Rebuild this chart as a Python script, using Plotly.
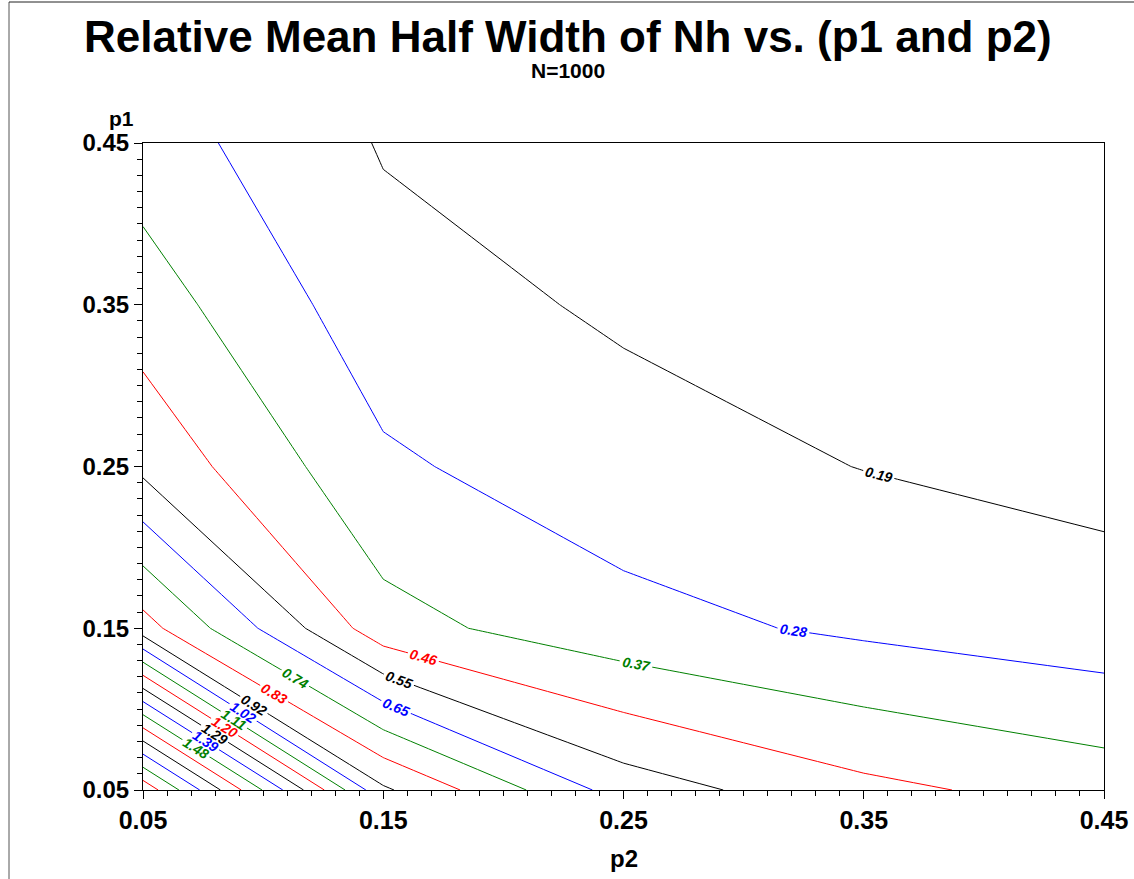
import plotly.graph_objects as go

# grid coordinates
p2_values = [0.05, 0.15, 0.25, 0.35, 0.45]   # x axis
p1_values = [0.05, 0.15, 0.25, 0.35, 0.45]   # y axis

# relative mean half width, rows = p1, columns = p2
rmhw_p1_005 = [2.010, 0.940, 0.604, 0.486, 0.422]
rmhw_p1_015 = [0.871, 0.4035, 0.309, 0.260, 0.222]
rmhw_p1_025 = [0.531, 0.293, 0.2205, 0.183, 0.160]
rmhw_p1_035 = [0.414, 0.221, 0.172, 0.150, 0.135]
rmhw_p1_045 = [0.323, 0.178, 0.145, 0.128, 0.118]

# contour levels actually used (even spacing) and the rounded labels shown
level_values = [0.185, 0.2775, 0.37, 0.4625, 0.555, 0.6475, 0.74, 0.8325, 0.925, 1.0175,
                1.11, 1.2025, 1.295, 1.3875, 1.48, 1.5725, 1.665, 1.7575, 1.85, 1.9425]
level_labels = [0.19, 0.28, 0.37, 0.46, 0.55, 0.65, 0.74, 0.83, 0.92, 1.02,
                1.11, 1.20, 1.29, 1.39, 1.48, 1.57, 1.66, 1.75, 1.85, 1.94]
labelled = [True] * 19 + [False]
level_colors = ["#000000", "#0000FF", "#008000", "#FF0000"]

tick_vals = [0.05, 0.15, 0.25, 0.35, 0.45]
tick_text = ["0.05", "0.15", "0.25", "0.35", "0.45"]

z = [rmhw_p1_005, rmhw_p1_015, rmhw_p1_025, rmhw_p1_035, rmhw_p1_045]

fig = go.Figure()
for i, (lvl, lab) in enumerate(zip(level_values, level_labels)):
    col = level_colors[i % 4]
    shift = lab - lvl  # draw the true level while the label reads the rounded value
    z_shifted = [[v + shift for v in row] for row in z]
    fig.add_trace(go.Contour(
        x=p2_values, y=p1_values, z=z_shifted,
        autocontour=False,
        contours=dict(start=lab, end=lab, size=1, coloring="none",
                      showlabels=labelled[i], labelformat=".2f",
                      labelfont=dict(size=14, color=col, family="Liberation Sans, Arial, sans-serif",
                                     weight="bold", style="italic")),
        line=dict(color=col, width=1, smoothing=0),
        showscale=False, hoverinfo="skip", showlegend=False,
    ))

W, H = 1134, 879
L, R, T, B = 143, 30, 143, 89
pw, ph = W - L - R, H - T - B

def px(X):
    return (X - L) / pw

def py(Y):
    return (H - B - Y) / ph

font = "Liberation Sans, Arial, sans-serif"

fig.update_layout(
    width=W, height=H, autosize=False,
    margin=dict(l=L, r=R, t=T, b=B, pad=0),
    paper_bgcolor="white", plot_bgcolor="white",
    xaxis=dict(range=[0.05, 0.45], tickvals=tick_vals, ticktext=tick_text,
               ticks="outside", ticklen=8, tickwidth=1, tickcolor="black",
               showline=True, linecolor="black", linewidth=1, mirror=True,
               showgrid=False, zeroline=False, automargin=False,
               tickfont=dict(family=font, size=25, color="black", weight="bold"),
               minor=dict(dtick=0.01, tick0=0.05, ticks="outside", ticklen=5,
                          tickcolor="black", showgrid=False)),
    yaxis=dict(range=[0.05, 0.45], tickvals=tick_vals, ticktext=tick_text,
               ticks="outside", ticklen=8, tickwidth=1, tickcolor="black",
               showline=True, linecolor="black", linewidth=1, mirror=True,
               showgrid=False, zeroline=False, automargin=False,
               tickfont=dict(family=font, size=24, color="black", weight="bold"),
               minor=dict(dtick=0.01, tick0=0.05, ticks="outside", ticklen=5,
                          tickcolor="black", showgrid=False)),
    annotations=[
        dict(text="Relative Mean Half Width of Nh vs. (p1 and p2)", xref="paper", yref="paper",
             x=px(568), y=py(37), xanchor="center", yanchor="middle", showarrow=False,
             font=dict(family=font, size=44, color="black", weight="bold")),
        dict(text="N=1000", xref="paper", yref="paper",
             x=px(568), y=py(71), xanchor="center", yanchor="middle", showarrow=False,
             font=dict(family=font, size=21, color="black", weight="bold")),
        dict(text="p1", xref="paper", yref="paper",
             x=px(121), y=py(118), xanchor="center", yanchor="middle", showarrow=False,
             font=dict(family=font, size=21, color="black", weight="bold")),
        dict(text="p2", xref="paper", yref="paper",
             x=px(624), y=py(858), xanchor="center", yanchor="middle", showarrow=False,
             font=dict(family=font, size=24, color="black", weight="bold")),
    ],
    shapes=[
        dict(type="line", xref="paper", yref="paper", x0=px(9), x1=px(9), y0=py(2), y1=py(879),
             line=dict(color="#555555", width=1)),
        dict(type="line", xref="paper", yref="paper", x0=px(9), x1=px(1134), y0=py(2), y1=py(2),
             line=dict(color="#222222", width=1)),
    ],
)

fig.write_html("out.html", config={"displayModeBar": False},
               post_script="document.body.style.margin='0px';document.body.style.overflow='hidden';")
